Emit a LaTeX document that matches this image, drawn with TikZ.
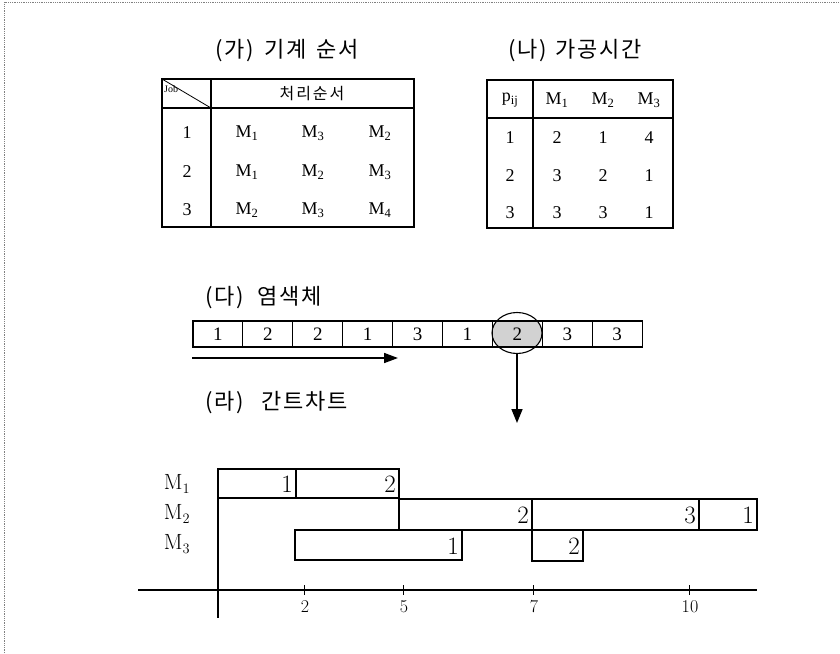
\documentclass[tikz,border=0pt]{standalone}
\usepackage{fontspec}
\newfontfamily\kr[LetterSpace=8]{Noto Sans CJK KR}
\newfontfamily\krh[LetterSpace=12]{Noto Sans CJK KR}
\newfontfamily\tms{Liberation Serif}
\usetikzlibrary{arrows.meta,shapes.geometric}
\begin{document}
\begin{tikzpicture}[x=1pt,y=-1pt,
  ln/.style={line width=1.1pt},
  ax/.style={line width=2.6pt},
  ttl/.style={font=\kr\fontsize{22}{24}\selectfont, inner sep=0pt},
  hd/.style={font=\krh\fontsize{16}{18}\selectfont, inner sep=0pt},
  tx/.style={font=\tms\fontsize{18}{20}\selectfont, inner sep=0pt},
  cell/.style={draw, ln, minimum width=49.9pt, minimum height=26pt, inner sep=0pt, font=\tms\fontsize{19}{20}\selectfont},
  bar/.style={font=\fontsize{25}{28}\selectfont, inner sep=0pt, anchor=east},
  ml/.style={font=\fontsize{22}{24}\selectfont, inner sep=0pt},
  tk/.style={font=\fontsize{18}{20}\selectfont, inner sep=0pt}
]
\useasboundingbox (0,0) rectangle (840,653);
% frame
\draw[densely dotted, line width=0.8pt, gray] (4,653) -- (4,2) -- (840,2);

% ---------- (가) table
\node[ttl] (t1) at (287,51) {(가)\hspace{10pt}기계\hspace{10pt}순서};
\draw[ln] (162,79) rectangle (414,227);
\draw[ln] (211,79) -- (211,227);
\draw[ln] (162,108) -- (414,108);
\draw[line width=0.8pt] (162,79) -- (211,108);
\node[font=\tms\fontsize{10}{11}\selectfont, inner sep=0pt, anchor=west] (job) at (164,89) {Job};
\node[hd] (h1) at (312,94) {처리순서};
\foreach \r/\y/\a/\b/\c in {1/133/1/3/2, 2/172/1/2/3, 3/210/2/3/4}{
  \node[tx] (a\r) at (187,\y) {\r};
  \node[tx] (a\r1) at (247,\y) {M\textsubscript{\a}};
  \node[tx] (a\r2) at (313,\y) {M\textsubscript{\b}};
  \node[tx] (a\r3) at (380,\y) {M\textsubscript{\c}};
}

% ---------- (나) table
\node[ttl] (t2) at (575,51) {(나)\hspace{9pt}가공시간};
\draw[ln] (487,80) rectangle (673,228);
\draw[ln] (533,80) -- (533,228);
\draw[ln] (487,118) -- (673,118);
\node[tx] (pij) at (510,100) {p\textsubscript{ij}};
\node[tx] (m1) at (557,100) {M\textsubscript{1}};
\node[tx] (m2) at (603,100) {M\textsubscript{2}};
\node[tx] (m3) at (649,100) {M\textsubscript{3}};
\foreach \r/\y/\a/\b/\c in {1/138/2/1/4, 2/176/3/2/1, 3/213/3/3/1}{
  \node[tx] (b\r) at (510,\y) {\r};
  \node[tx] (b\r1) at (557,\y) {\a};
  \node[tx] (b\r2) at (603,\y) {\b};
  \node[tx] (b\r3) at (649,\y) {\c};
}

% ---------- (다) chromosome
\node[ttl, anchor=west] (t3) at (205,298) {(다)\hspace{14pt}염색체};
\begin{scope}
  \clip (492.4,321) rectangle (542.3,347);
  \fill[gray!35] (517,333) ellipse [x radius=25pt, y radius=20.5pt];
\end{scope}
\foreach \v [count=\i from 0] in {1,2,2,1,3,1,2,3,3}{
  \node[cell] (c\i) at ({193+24.95+49.9*\i},334) {\v};
}
\node[draw, ln, ellipse, minimum width=50pt, minimum height=41pt, inner sep=0pt] (sel) at (517,333) {};
\coordinate (hs) at (192,358);
\coordinate (he) at (398,358);
\draw[line width=1.6pt, -{Triangle[length=14pt,width=10pt]}] (hs) -- (he);
\coordinate (dn) at (517,423);
\draw[line width=1.6pt, -{Triangle[length=14pt,width=11pt]}] (sel.south) -- (dn);

% ---------- (라) Gantt
\node[ttl, anchor=west] (t4) at (205,403) {(라)\hspace{18pt}간트차트};
\draw[ax] (218,468) -- (218,618);
\draw[ax] (138,590) -- (757,590);
\foreach \x/\l in {304/2, 403/5, 533/7, 689/10}{
  \draw[line width=0.8pt] (\x,585) -- (\x,595);
  \node[tk] (tk\l) at (\x+1,607) {\l};
}
\node[ml] (M1) at (177,484) {M$_1$};
\node[ml] (M2) at (177,514) {M$_2$};
\node[ml] (M3) at (177,544) {M$_3$};
% M1
\draw[ln] (218,469) rectangle (296,498);
\draw[ln] (296,469) rectangle (399,498);
\node[bar] (g11) at (293,484) {1};
\node[bar] (g12) at (396,484) {2};
% M2
\draw[ln] (399,499) rectangle (532,530);
\draw[ln] (532,499) rectangle (699,530);
\draw[ln] (699,499) rectangle (757,530);
\node[bar] (g22) at (529,515) {2};
\node[bar] (g23) at (696,515) {3};
\node[bar] (g21) at (754,515) {1};
% M3
\draw[ln] (295,530) rectangle (462,560);
\draw[ln] (532,530) rectangle (583,561);
\node[bar] (g31) at (459,546) {1};
\node[bar] (g32) at (580,546) {2};
\end{tikzpicture}
\end{document}
